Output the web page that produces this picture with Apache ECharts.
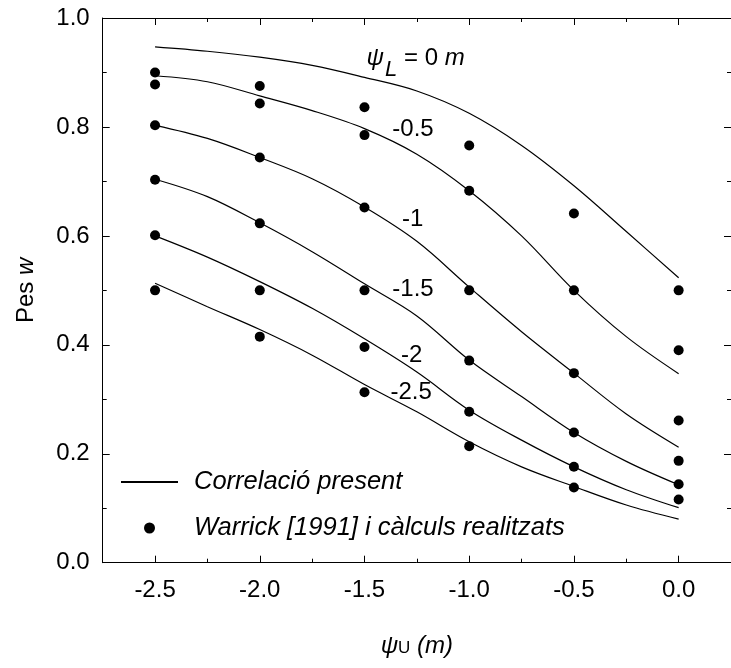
<!DOCTYPE html>
<html><head><meta charset="utf-8">
<script src="https://cdn.jsdelivr.net/npm/echarts@6/dist/echarts.min.js"></script>
<style>html,body{margin:0;padding:0;background:#fff}#c{width:731px;height:668px}</style>
</head><body><div id="c"></div>
<script>
// ---- tick values ----
const xTickLabels = [-2.5, -2.0, -1.5, -1.0, -0.5, 0.0];
// ---- measured points (psi_U, w) : Warrick [1991] i càlculs realitzats ----
const psiU = [-2.5, -2.0, -1.5, -1.0, -0.5, 0.0];
const ptsAtM25 = [0.900, 0.878, 0.803, 0.703, 0.601, 0.500];
const ptsAtM20 = [0.875, 0.843, 0.744, 0.623, 0.500, 0.415];
const ptsAtM15 = [0.836, 0.785, 0.652, 0.500, 0.396, 0.313];
const ptsAtM10 = [0.766, 0.683, 0.500, 0.371, 0.277, 0.214];
const ptsAtM05 = [0.641, 0.500, 0.348, 0.239, 0.176, 0.138];
const ptsAt00  = [0.500, 0.390, 0.261, 0.187, 0.144, 0.116];
// ---- correlation curves ----
const curveX = [-2.5, -2.25, -2.0, -1.75, -1.5, -1.25, -1.0, -0.75, -0.5, -0.25, 0.0];
const curvePsiL0   = [0.947, 0.939, 0.928, 0.913, 0.891, 0.866, 0.825, 0.766, 0.692, 0.608, 0.523];
const curvePsiLm05 = [0.894, 0.883, 0.857, 0.830, 0.797, 0.750, 0.683, 0.600, 0.500, 0.415, 0.347];
const curvePsiLm10 = [0.803, 0.779, 0.744, 0.705, 0.653, 0.590, 0.506, 0.424, 0.348, 0.273, 0.212];
const curvePsiLm15 = [0.704, 0.672, 0.624, 0.571, 0.512, 0.453, 0.372, 0.305, 0.239, 0.186, 0.143];
const curvePsiLm20 = [0.600, 0.561, 0.516, 0.467, 0.411, 0.350, 0.280, 0.225, 0.176, 0.134, 0.101];
const curvePsiLm25 = [0.513, 0.470, 0.428, 0.381, 0.327, 0.277, 0.222, 0.176, 0.140, 0.106, 0.080];
// ---- curve label texts and anchors (data coords) ----
const curveLabelText = ['{i|ψ}{sub|L}{n| = 0 }{i|m}', '-0.5', '-1', '-1.5', '-2', '-2.5'];
const curveLabelX = [-1.49, -1.367, -1.321, -1.367, -1.326, -1.376];
const curveLabelY = [0.926, 0.795, 0.631, 0.501, 0.381, 0.313];

const FONT = '"Liberation Sans", Arial, sans-serif';
const FS = 24;
const LEG_LINE = 'Correlació present';
const LEG_PTS = 'Warrick [1991] i càlculs realitzats';

const zip = (xs, ys) => xs.map((x, i) => [x, ys[i]]);
const pointCols = [ptsAtM25, ptsAtM20, ptsAtM15, ptsAtM10, ptsAtM05, ptsAt00];
const scatterData = [];
pointCols.forEach((col, i) => col.forEach(v => scatterData.push([psiU[i], v])));
const curves = [curvePsiL0, curvePsiLm05, curvePsiLm10, curvePsiLm15, curvePsiLm20, curvePsiLm25];

const XMIN = -2.75, XMAX = 0.25;
const black = '#000';
// ticks counted from min (-2.75) every 0.5 -> odd quarters (short); minor ticks land on the labelled values (long)
function xAx(pos, withLabel) {
  return {
    type: 'value', position: pos, min: XMIN, max: XMAX, interval: 0.5,
    splitLine: { show: false },
    axisLine: { show: true, onZero: false, lineStyle: { color: black, width: 1 } },
    axisTick: { show: true, inside: true, length: 4, lineStyle: { color: black, width: 1 } },
    minorTick: { show: true, splitNumber: 2, length: 7, lineStyle: { color: black, width: 1 } },
    minorSplitLine: { show: false },
    axisLabel: { show: withLabel, customValues: xTickLabels, formatter: v => v.toFixed(1),
      fontSize: FS, fontFamily: FONT, color: black, margin: 16 }
  };
}
function yAx(pos, withLabel) {
  return {
    type: 'value', position: pos, min: 0, max: 1, interval: 0.2,
    splitLine: { show: false },
    axisLine: { show: true, onZero: false, lineStyle: { color: black, width: 1 } },
    axisTick: { show: true, inside: true, length: 7, lineStyle: { color: black, width: 1 } },
    minorTick: { show: true, splitNumber: 2, length: 4, lineStyle: { color: black, width: 1 } },
    minorSplitLine: { show: false },
    axisLabel: { show: withLabel, formatter: v => v.toFixed(1), fontSize: FS, fontFamily: FONT, color: black, margin: 13 }
  };
}

const xMain = xAx('bottom', true);
xMain.name = '{i|ψ}{u|U}{i| (m)}';
xMain.nameLocation = 'middle';
xMain.nameGap = 72;
xMain.nameTextStyle = { fontFamily: FONT, color: black, rich: {
  i: { fontSize: FS, fontStyle: 'italic', fontFamily: FONT, color: black },
  u: { fontSize: 17, fontFamily: FONT, color: black, padding: [4, 0, 0, 0] }
}};
const yMain = yAx('left', true);
yMain.name = '{a|Pes }{b|w}';
yMain.nameLocation = 'middle';
yMain.nameRotate = 90;
yMain.nameGap = 64;
yMain.nameTextStyle = { fontFamily: FONT, color: black, rich: {
  a: { fontSize: FS, fontFamily: FONT, color: black },
  b: { fontSize: FS, fontFamily: FONT, color: black, fontStyle: 'italic' }
}};

const series = [];
curves.forEach(c => series.push({
  name: LEG_LINE, type: 'line', xAxisIndex: 0, yAxisIndex: 0,
  data: zip(curveX, c), smooth: 0.35, symbol: 'none', showSymbol: false,
  lineStyle: { color: black, width: 1.2 }, itemStyle: { color: black },
  silent: true, animation: false, z: 3
}));
series.push({
  name: LEG_PTS, type: 'scatter', xAxisIndex: 0, yAxisIndex: 0,
  data: scatterData, symbol: 'circle', symbolSize: 10,
  itemStyle: { color: black, opacity: 1 }, animation: false, z: 4
});
series.push({
  name: 'labels', type: 'scatter', xAxisIndex: 0, yAxisIndex: 0,
  data: curveLabelX.map((x, i) => [x, curveLabelY[i]]),
  symbolSize: 0, silent: true, animation: false, z: 5,
  itemStyle: { color: black, opacity: 1 },
  label: {
    show: true, position: 'right', distance: 0, opacity: 1,
    formatter: p => curveLabelText[p.dataIndex],
    fontSize: FS, fontFamily: FONT, color: black,
    rich: {
      i: { fontSize: FS, fontFamily: FONT, fontStyle: 'italic', color: black, lineHeight: 24 },
      n: { fontSize: FS, fontFamily: FONT, color: black, lineHeight: 24 },
      sub: { fontSize: 22, fontFamily: FONT, fontStyle: 'italic', color: black, lineHeight: 22, padding: [24, 0, 0, 1] }
    }
  }
});

const option = {
  backgroundColor: '#fff',
  animation: false,
  textStyle: { fontFamily: FONT },
  grid: { left: 102.7, right: -5.5, top: 18, bottom: 105.3, containLabel: false },
  xAxis: [ xMain, xAx('top', false) ],
  yAxis: [ yMain, yAx('right', false) ],
  legend: {
    data: [{ name: LEG_LINE, itemStyle: { opacity: 0 } }, LEG_PTS],
    orient: 'vertical', left: 115, top: 464,
    itemWidth: 57, itemHeight: 11, itemGap: 20, selectedMode: false,
    textStyle: { fontSize: 25.5, fontFamily: FONT, fontStyle: 'italic', color: black, padding: [0, 0, 0, 11] }
  },
  series: series
};
const chart = echarts.init(document.getElementById('c'), null, { renderer: 'canvas' });
chart.setOption(option);
</script></body></html>
